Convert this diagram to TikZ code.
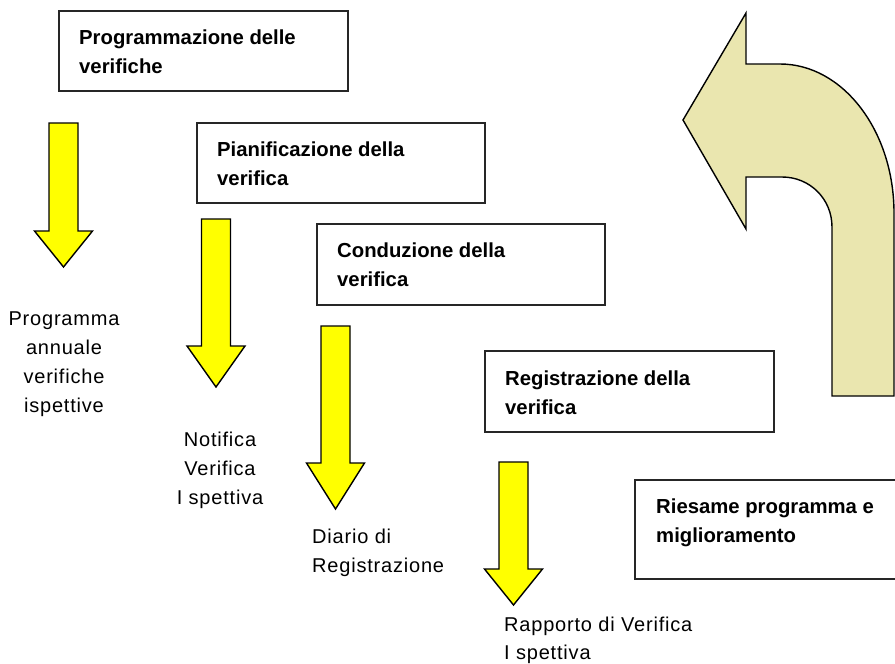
\documentclass[tikz,border=0pt]{standalone}
\usepackage{fontspec}
\setmainfont{Liberation Sans}
\newfontfamily\regfont{Liberation Sans}[LetterSpace=4]
\definecolor{arrowyellow}{RGB}{255,255,0}
\definecolor{khaki}{RGB}{234,230,175}
\newcommand{\yarrow}[4]{\filldraw[yarrow] (#1-14.5,#2) -- (#1+14.5,#2) -- (#1+14.5,#3) -- (#1+29,#3) -- (#1,#4) -- (#1-29,#3) -- (#1-14.5,#3) -- cycle;}
\begin{document}
\begin{tikzpicture}[x=1pt,y=-1pt,
  box/.style={draw=black!85, line width=1.5pt, fill=white, anchor=north west, inner sep=0pt},
  btext/.style={anchor=base west, inner sep=0pt, font=\fontsize{20.3}{29}\selectfont\bfseries},
  rtext/.style={inner sep=0pt, font=\fontsize{20}{29}\selectfont\regfont},
  yarrow/.style={fill=arrowyellow, draw=black, line width=1.4pt, line join=miter},
  bigarrow/.style={fill=khaki, draw=black, line width=1.4pt, line join=miter}]
\useasboundingbox (0,0) rectangle (895,664);
\clip (0,0) rectangle (895,664);
\fill[white] (0,0) rectangle (895,664);

% boxes
\node[box, minimum width=289pt, minimum height=80pt] (b1) at (58,10) {};
\node[box, minimum width=288pt, minimum height=80pt] (b2) at (196,122) {};
\node[box, minimum width=288pt, minimum height=81pt] (b3) at (316,223) {};
\node[box, minimum width=289pt, minimum height=81pt] (b4) at (484,350) {};
\node[box, minimum width=280pt, minimum height=99pt] (b5) at (634,479) {};

% box texts
\node[btext] (t1) at (79,44) {\begin{tabular}[t]{@{}l@{}}Programmazione delle\\verifiche\end{tabular}};
\node[btext] (t2) at (217,156) {\begin{tabular}[t]{@{}l@{}}Pianificazione della\\verifica\end{tabular}};
\node[btext] (t3) at (337,257) {\begin{tabular}[t]{@{}l@{}}Conduzione della\\verifica\end{tabular}};
\node[btext] (t4) at (505,385) {\begin{tabular}[t]{@{}l@{}}Registrazione della\\verifica\end{tabular}};
\node[btext] (t5) at (656,513) {\begin{tabular}[t]{@{}l@{}}Riesame programma e\\miglioramento\end{tabular}};

% yellow arrows
\yarrow{63.5}{123}{231}{267}
\yarrow{216}{219}{346}{387}
\yarrow{335.5}{326}{463}{509}
\yarrow{513.5}{462}{569}{605}

% output labels
\node[rtext, anchor=base] (o1) at (64,325) {\begin{tabular}[t]{@{}c@{}}Programma\\annuale\\verifiche\\ispettive\end{tabular}};
\node[rtext, anchor=base] (o2) at (220,446) {\begin{tabular}[t]{@{}c@{}}Notifica\\Verifica\\I spettiva\end{tabular}};
\node[rtext, anchor=base west] (o3) at (312,543) {\begin{tabular}[t]{@{}l@{}}Diario di\\Registrazione\end{tabular}};
\node[rtext, anchor=base west] (o4) at (504,631) {\begin{tabular}[t]{@{}l@{}}Rapporto di Verifica\\[-1pt]I spettiva\end{tabular}};

% curved return arrow
\filldraw[bigarrow] (683,120) -- (746,13) -- (746,64) -- (780,64)
  .. controls (843,64) and (894,131) .. (894,213)
  -- (894,396) -- (832,396) -- (832,227)
  .. controls (832,199) and (810,177) .. (782,177)
  -- (746,177) -- (746,229) -- cycle;
\end{tikzpicture}
\end{document}
